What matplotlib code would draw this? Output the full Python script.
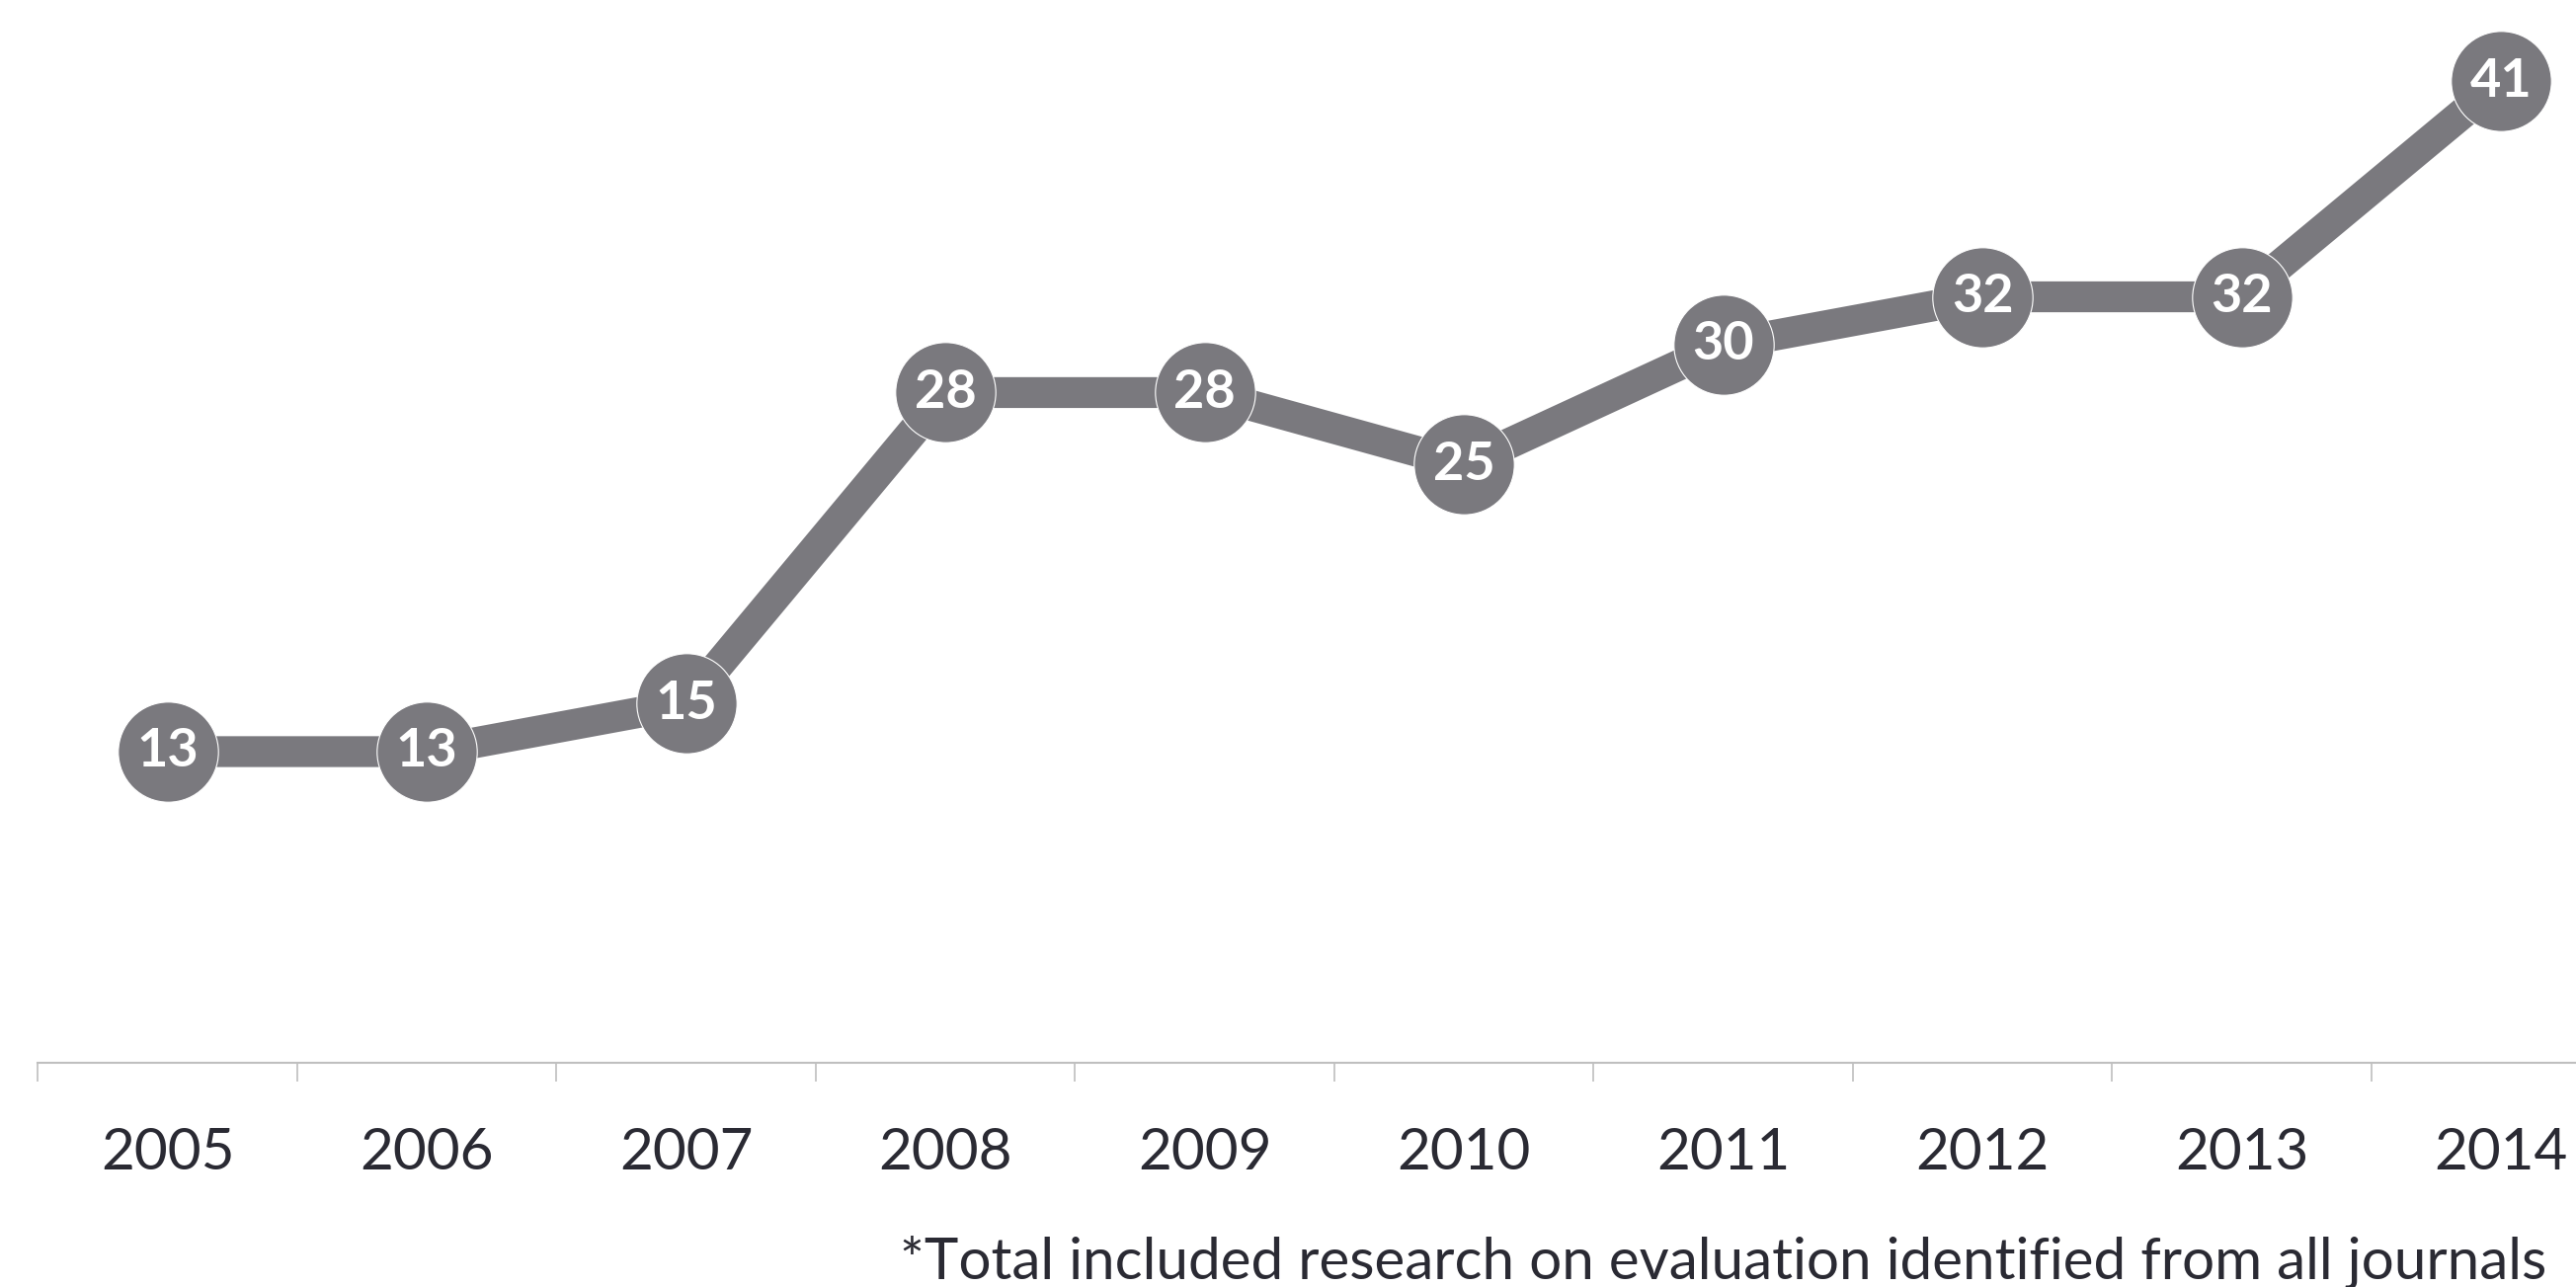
import matplotlib
matplotlib.use("Agg")
import matplotlib.pyplot as plt

# publications per year
years = ["2005", "2006", "2007", "2008", "2009", "2010", "2011", "2012", "2013", "2014"]
counts = [13, 13, 15, 28, 28, 25, 30, 32, 32, 41]
footnote = "*Total included research on evaluation identified from all journals"

line_col = "#7a797e"
text_col = "#2a2a33"

plt.rcParams["font.family"] = ["Lato", "DejaVu Sans"]

fig = plt.figure(figsize=(26.08, 13.03), dpi=100)
ax = fig.add_axes([0.0147, 0.1742, 1 - 0.0147, 1 - 0.1742])

x = list(range(len(years)))
ax.plot(x, counts, color=line_col, lw=22.5, solid_capstyle="butt", zorder=2)
ax.plot(x, counts, "o", ms=73, color=line_col, mec="white", mew=0.8, zorder=3)
for xi, v in zip(x, counts):
    ax.text(xi, v, str(v), ha="center", va="center", color="white",
            fontsize=39, fontweight="bold", zorder=4)

for s in ["top", "right", "left"]:
    ax.spines[s].set_visible(False)
ax.spines["bottom"].set_color("#bfbfbf")
ax.spines["bottom"].set_linewidth(1.5)
ax.set_yticks([])

# ticks sit between categories, labels in the middle
ax.set_xticks([i - 0.5 for i in range(len(years) + 1)])
ax.set_xticklabels([])
ax.tick_params(axis="x", which="major", length=14, width=1.2, color="#bfbfbf", direction="out")
ax.set_xticks(x, minor=True)
ax.set_xticklabels(years, minor=True)
ax.tick_params(axis="x", which="minor", length=0, pad=47, labelsize=42, labelcolor=text_col)

# limits last, set_xticks would widen them
ax.set_xlim(-0.5, 9.289)
ax.set_ylim(0, 44.4)

fig.text(0.3493, 0.0069, footnote, ha="left", va="baseline", fontsize=42, color=text_col)

fig.savefig("out.png", dpi=100)
